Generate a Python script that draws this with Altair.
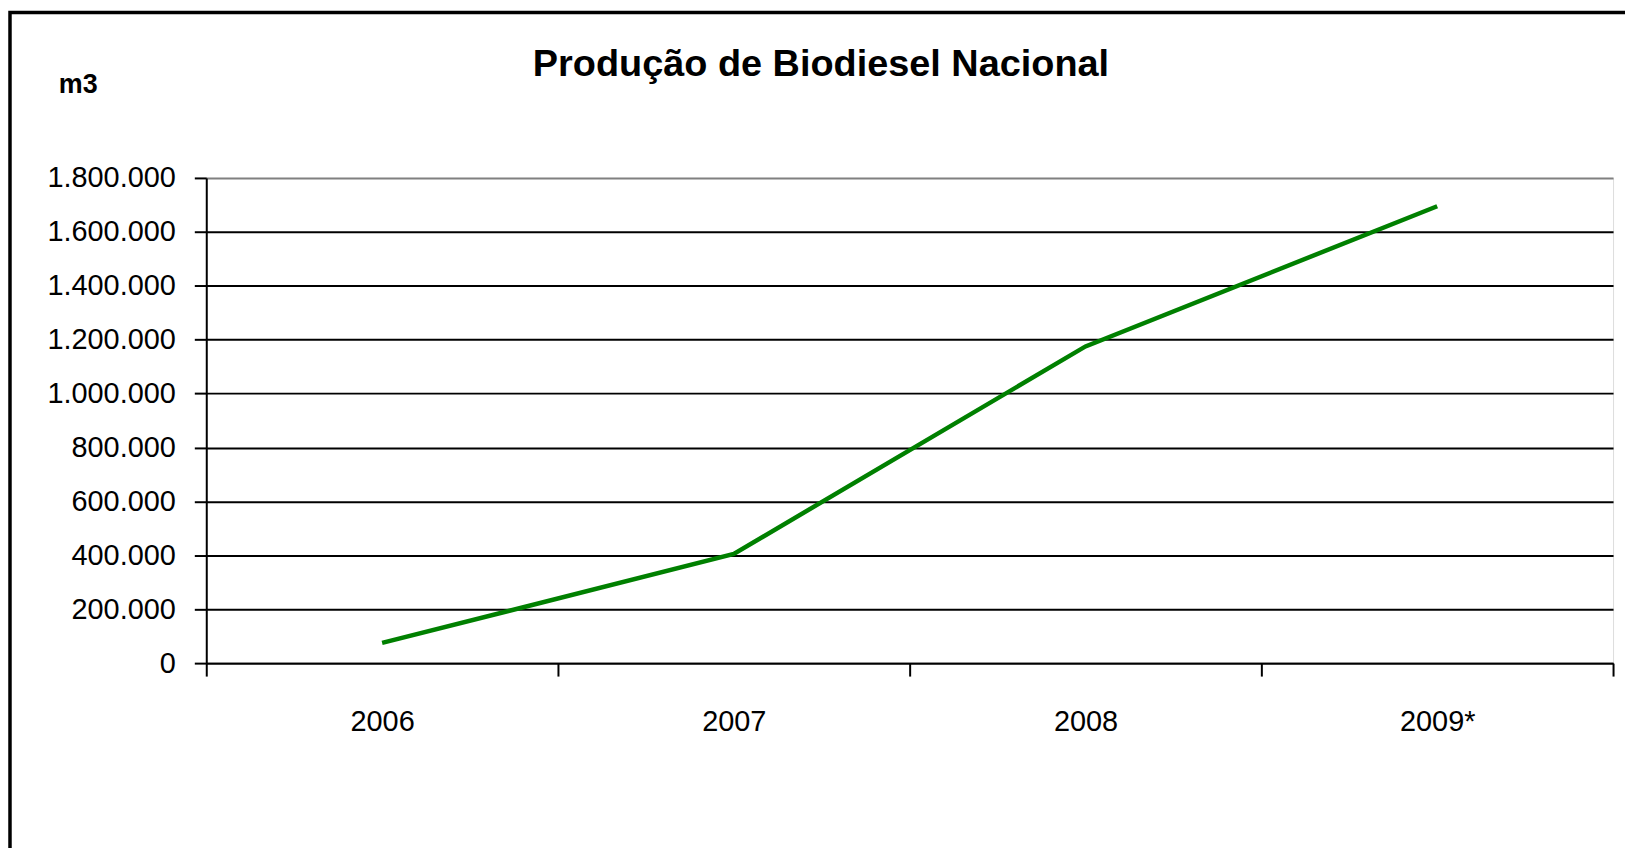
import altair as alt
import pandas as pd

years = ["2006", "2007", "2008", "2009*"]
production = [75000, 405000, 1175000, 1695000]
y_ticks = [0, 200000, 400000, 600000, 800000, 1000000, 1200000, 1400000, 1600000, 1800000]
title_text = "Produção de Biodiesel Nacional"
unit_text = "m3"

df = pd.DataFrame({"ano": years, "producao": production})

W, H = 1412, 487
FONT = "Liberation Sans"

base = alt.Chart(df)

line = base.mark_line(color="#008000", strokeWidth=4.5).encode(
    x=alt.X(
        "ano:N",
        sort=years,
        scale=alt.Scale(paddingInner=0, paddingOuter=0),
        axis=alt.Axis(
            title=None,
            labelAngle=0,
            labelFont=FONT,
            labelFontSize=29,
            labelColor="black",
            labelPadding=32,
            tickBand="extent",
            tickColor="black",
            tickWidth=2,
            tickSize=13,
            domainColor="black",
            domainWidth=2,
            grid=False,
        ),
    ),
    y=alt.Y(
        "producao:Q",
        scale=alt.Scale(domain=[0, 1800000], nice=False),
        axis=alt.Axis(
            title=None,
            values=y_ticks,
            labelExpr="replace(replace(format(datum.value, ','), ',', '.'), ',', '.')",
            labelFont=FONT,
            labelFontSize=29,
            labelColor="black",
            labelPadding=19,
            tickColor="black",
            tickWidth=2,
            tickSize=12,
            domainColor="black",
            domainWidth=2,
            grid=True,
            gridColor={"condition": {"test": "datum.value >= 1800000", "value": "#808080"}, "value": "black"},
            gridWidth=2,
            gridOpacity=1,
        ),
    ),
)

one = alt.Data(values=[{"t": title_text, "u": unit_text}])

title = alt.Chart(one).mark_text(
    font=FONT, fontSize=38, fontWeight="bold", color="black",
    align="center", baseline="alphabetic",
).encode(text="t:N", x=alt.value(617), y=alt.value(-102))

unit = alt.Chart(one).mark_text(
    font=FONT, fontSize=27, fontWeight="bold", color="black",
    align="left", baseline="alphabetic",
).encode(text="u:N", x=alt.value(-148), y=alt.value(-85))

border = alt.Chart(one).mark_rect(
    fillOpacity=0, stroke="black", strokeWidth=3.5, clip=False,
).encode(x=alt.value(-197), x2=alt.value(W + 200), y=alt.value(-166), y2=alt.value(H + 300))

chart = alt.layer(border, line, title, unit).properties(
    width=W,
    height=H,
    autosize=alt.AutoSizeParams(type="none"),
    padding={"left": 199, "top": 169, "right": 12, "bottom": 184},
).configure_view(
    stroke="#808080", strokeWidth=2
).configure(background="white")

chart.save("out.html", embed_options={"renderer": "svg", "actions": False})
